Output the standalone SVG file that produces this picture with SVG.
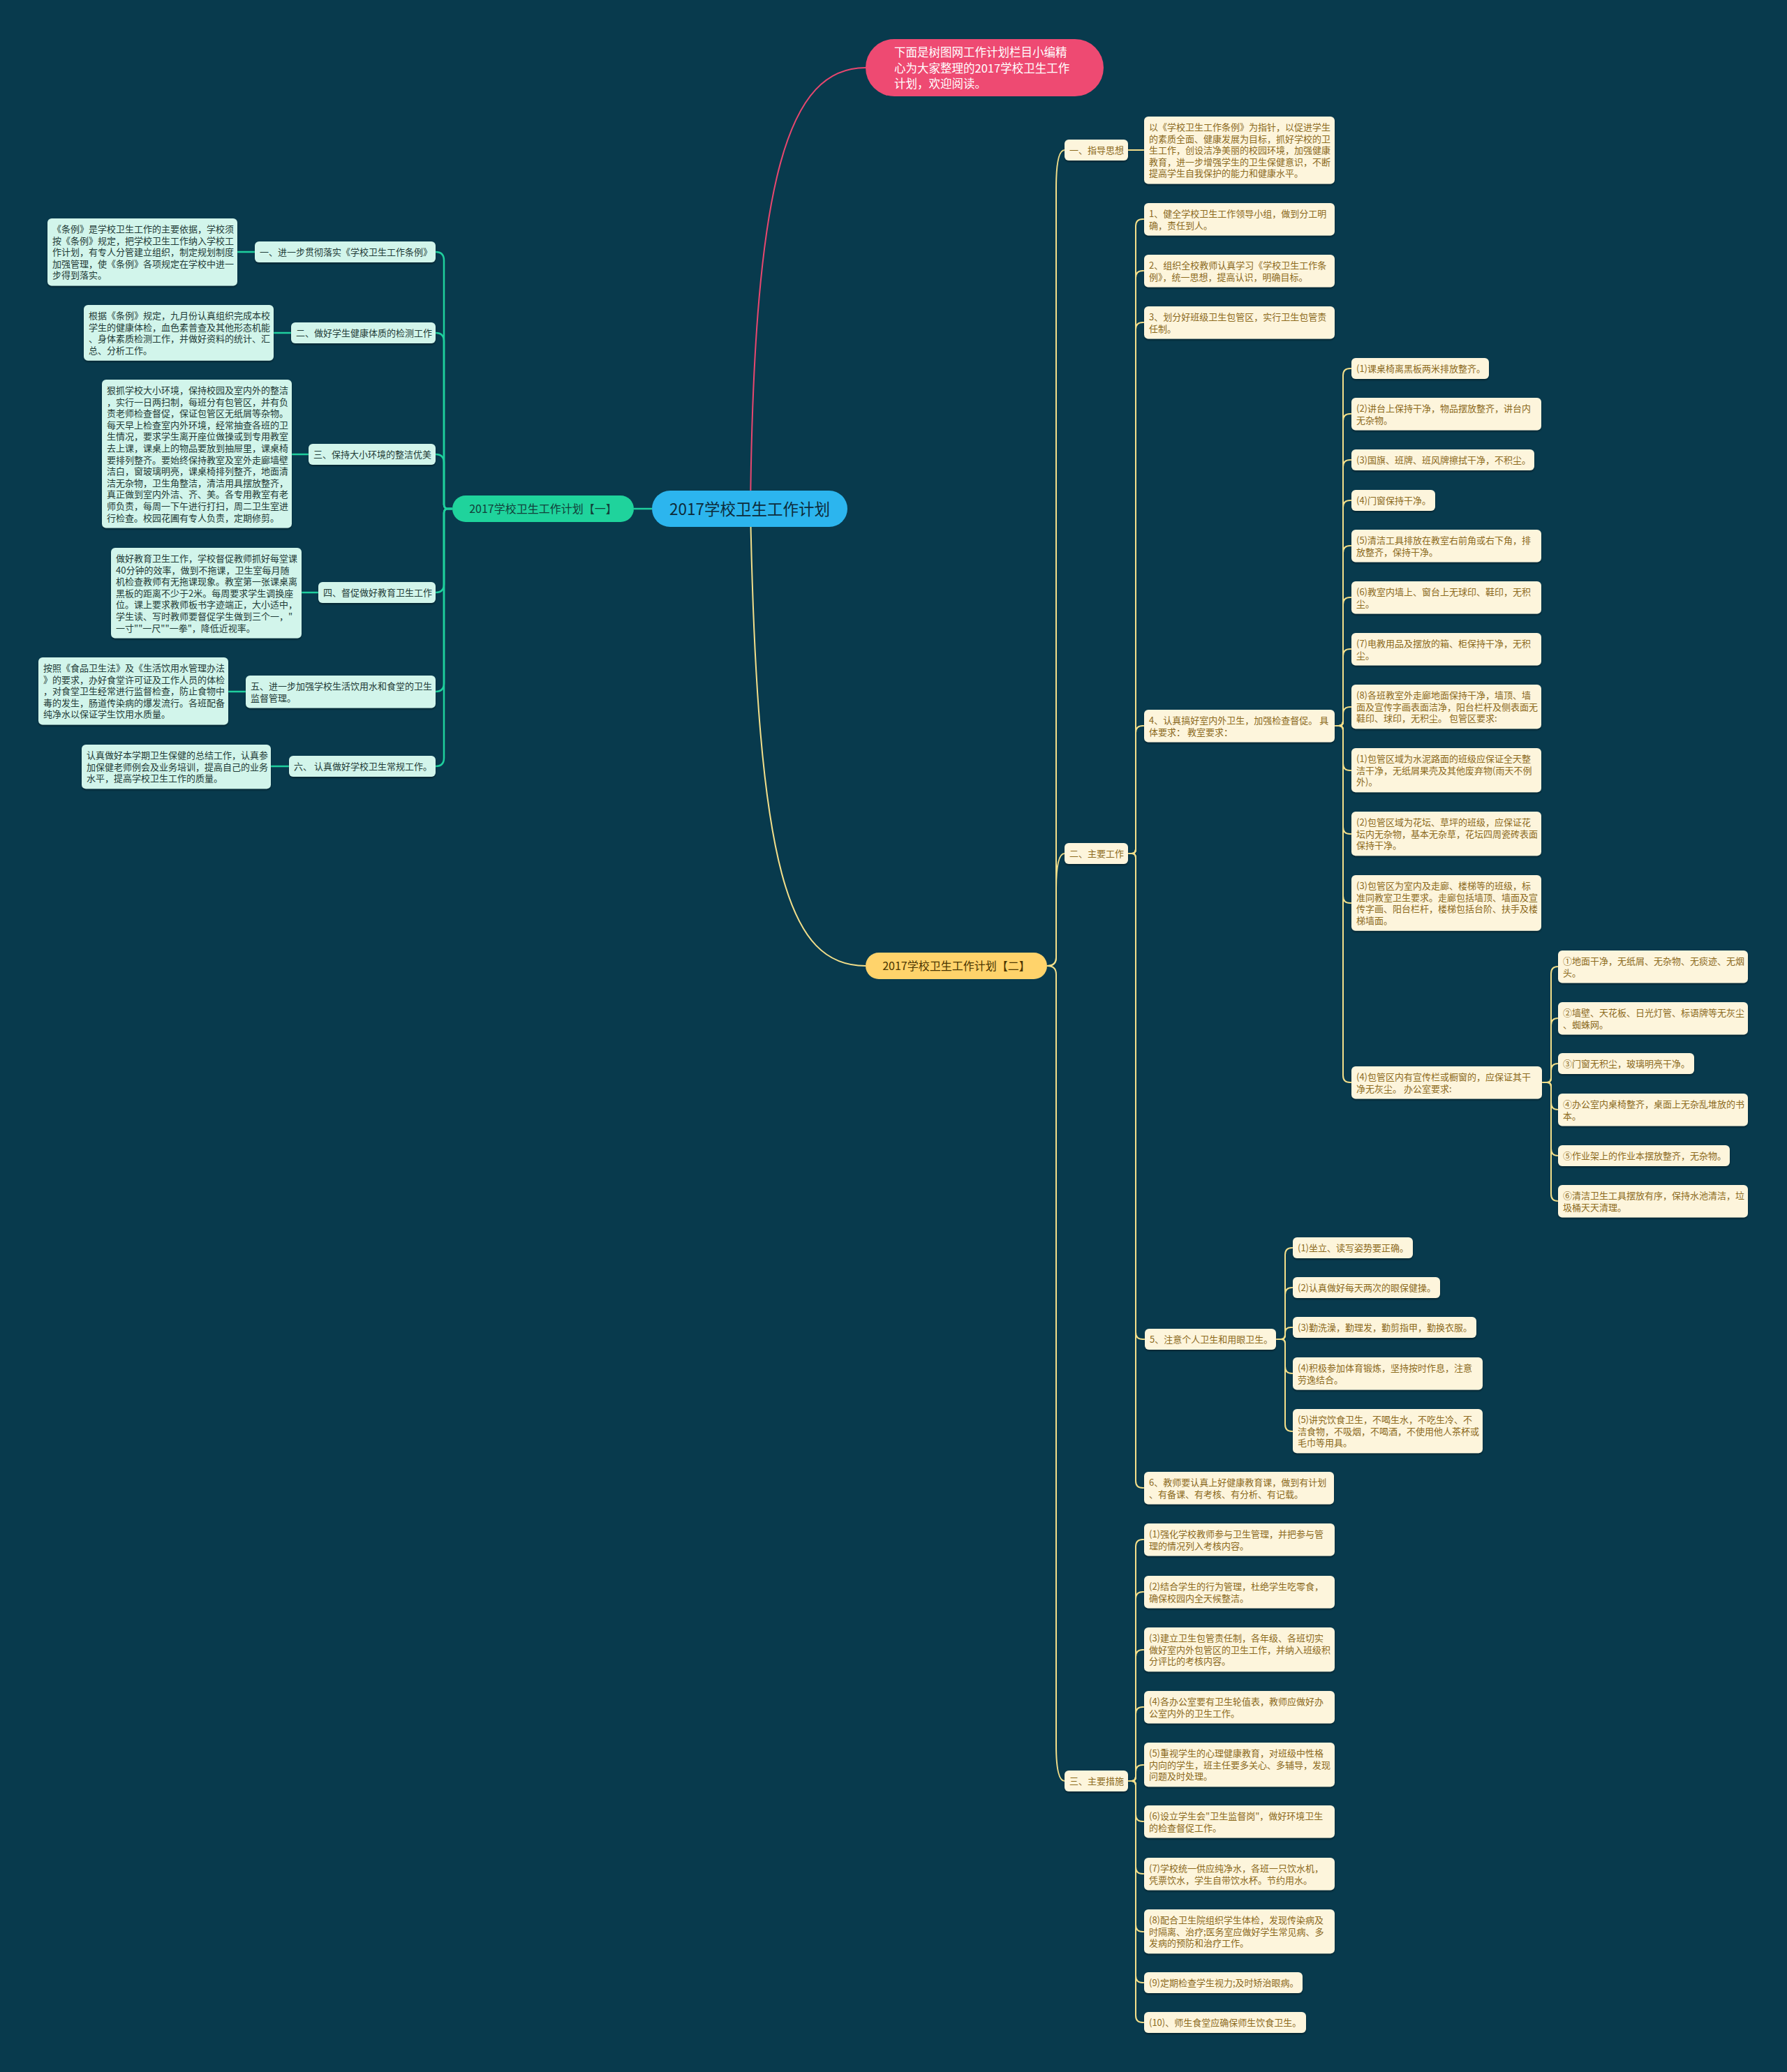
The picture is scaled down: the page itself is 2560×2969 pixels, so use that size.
<svg xmlns="http://www.w3.org/2000/svg" width="2560" height="2969" viewBox="0 0 2560 2969">
<defs>
<filter id="sh" x="-5%" y="-10%" width="110%" height="130%"><feDropShadow dx="0" dy="2" stdDeviation="1.2" flood-color="#000" flood-opacity="0.35"/></filter>
<style>
text{font-family:"Noto Sans CJK SC","Noto Sans",sans-serif;}
.rn{fill:#fdf5dc;filter:url(#sh);}
.ln{fill:#d2f5eb;filter:url(#sh);}
.rt{fill:#8c6a1c;font-size:13px;}
.lt{fill:#1f3b37;font-size:13px;}
.cy{fill:none;stroke:#f3df8a;stroke-width:2;}
.cg{fill:none;stroke:#1fcf9d;stroke-width:2.5;}
.cp{fill:none;stroke:#e8476f;stroke-width:2;}
</style>
</defs>
<rect width="2560" height="2969" fill="#083a4d"/>
<g id="connectors">
<path class="cp" d="M1075,729 C1080,250 1130,97 1240,97"/>
<path class="cy" d="M1075,729 C1085,1250 1130,1384 1240,1384"/>
<path class="cg" d="M934,729 H908"/>
<path class="cg" d="M648,729 H642 Q636,729 636,723 V373 Q636,361 624,361"/>
<path class="cg" d="M648,729 H642 Q636,729 636,723 V489 Q636,477 624,477"/>
<path class="cg" d="M648,729 H642 Q636,729 636,723 V663 Q636,651 624,651"/>
<path class="cg" d="M648,729 H642 Q636,729 636,735 V837 Q636,849 624,849"/>
<path class="cg" d="M648,729 H642 Q636,729 636,735 V979 Q636,991 624,991"/>
<path class="cg" d="M648,729 H642 Q636,729 636,735 V1086 Q636,1098 624,1098"/>
<path class="cg" d="M340,361 H365"/>
<path class="cg" d="M392,477 H417"/>
<path class="cg" d="M418,651 H442"/>
<path class="cg" d="M432,849 H456"/>
<path class="cg" d="M327,991 H352"/>
<path class="cg" d="M388,1098 H414"/>
<path class="cy" d="M1500,1384 Q1513,1384 1513,1372 V270 Q1513,215 1525,215"/>
<path class="cy" d="M1500,1384 Q1513,1384 1513,1372 V1275 Q1513,1223 1525,1223"/>
<path class="cy" d="M1500,1384 Q1513,1384 1513,1396 V2500 Q1513,2552 1525,2552"/>
<path class="cy" d="M1616,215 H1639"/>
<path class="cy" d="M1616,1223 H1621 Q1627,1223 1627,1217 V324 Q1627,314 1637,314 H1639"/>
<path class="cy" d="M1616,1223 H1621 Q1627,1223 1627,1217 V398 Q1627,388 1637,388 H1639"/>
<path class="cy" d="M1616,1223 H1621 Q1627,1223 1627,1217 V472 Q1627,462 1637,462 H1639"/>
<path class="cy" d="M1616,1223 H1621 Q1627,1223 1627,1217 V1050 Q1627,1040 1637,1040 H1639"/>
<path class="cy" d="M1616,1223 H1621 Q1627,1223 1627,1229 V1909 Q1627,1919 1637,1919 H1640"/>
<path class="cy" d="M1616,1223 H1621 Q1627,1223 1627,1229 V2122 Q1627,2132 1637,2132 H1639"/>
<path class="cy" d="M1912,1040 H1918 Q1924,1040 1924,1034 V538 Q1924,528 1934,528 H1936"/>
<path class="cy" d="M1912,1040 H1918 Q1924,1040 1924,1034 V603 Q1924,593 1934,593 H1936"/>
<path class="cy" d="M1912,1040 H1918 Q1924,1040 1924,1034 V669 Q1924,659 1934,659 H1936"/>
<path class="cy" d="M1912,1040 H1918 Q1924,1040 1924,1034 V727 Q1924,717 1934,717 H1936"/>
<path class="cy" d="M1912,1040 H1918 Q1924,1040 1924,1034 V792 Q1924,782 1934,782 H1936"/>
<path class="cy" d="M1912,1040 H1918 Q1924,1040 1924,1034 V866 Q1924,856 1934,856 H1936"/>
<path class="cy" d="M1912,1040 H1918 Q1924,1040 1924,1034 V940 Q1924,930 1934,930 H1936"/>
<path class="cy" d="M1912,1040 H1918 Q1924,1040 1924,1034 V1023 Q1924,1013 1934,1013 H1936"/>
<path class="cy" d="M1912,1040 H1918 Q1924,1040 1924,1046 V1094 Q1924,1104 1934,1104 H1936"/>
<path class="cy" d="M1912,1040 H1918 Q1924,1040 1924,1046 V1185 Q1924,1195 1934,1195 H1936"/>
<path class="cy" d="M1912,1040 H1918 Q1924,1040 1924,1046 V1284 Q1924,1294 1934,1294 H1936"/>
<path class="cy" d="M1912,1040 H1918 Q1924,1040 1924,1046 V1541 Q1924,1551 1934,1551 H1936"/>
<path class="cy" d="M2209,1551 H2216 Q2222,1551 2222,1545 V1395 Q2222,1385 2232,1385"/>
<path class="cy" d="M2209,1551 H2216 Q2222,1551 2222,1545 V1469 Q2222,1459 2232,1459"/>
<path class="cy" d="M2209,1551 H2216 Q2222,1551 2222,1545 V1534 Q2222,1524 2232,1524"/>
<path class="cy" d="M2209,1551 H2216 Q2222,1551 2222,1557 V1580 Q2222,1590 2232,1590"/>
<path class="cy" d="M2209,1551 H2216 Q2222,1551 2222,1557 V1646 Q2222,1656 2232,1656"/>
<path class="cy" d="M2209,1551 H2216 Q2222,1551 2222,1557 V1711 Q2222,1721 2232,1721"/>
<path class="cy" d="M1828,1919 H1835 Q1841,1919 1841,1913 V1798 Q1841,1788 1851,1788 H1852"/>
<path class="cy" d="M1828,1919 H1835 Q1841,1919 1841,1913 V1855 Q1841,1845 1851,1845 H1852"/>
<path class="cy" d="M1828,1919 H1835 Q1841,1919 1841,1913 V1910 Q1841,1902 1849,1902 H1852"/>
<path class="cy" d="M1828,1919 H1835 Q1841,1919 1841,1925 V1958 Q1841,1968 1851,1968 H1852"/>
<path class="cy" d="M1828,1919 H1835 Q1841,1919 1841,1925 V2041 Q1841,2051 1851,2051 H1852"/>
<path class="cy" d="M1616,2552 H1621 Q1627,2552 1627,2546 V2216 Q1627,2206 1637,2206 H1639"/>
<path class="cy" d="M1616,2552 H1621 Q1627,2552 1627,2546 V2291 Q1627,2281 1637,2281 H1639"/>
<path class="cy" d="M1616,2552 H1621 Q1627,2552 1627,2546 V2374 Q1627,2364 1637,2364 H1639"/>
<path class="cy" d="M1616,2552 H1621 Q1627,2552 1627,2546 V2456 Q1627,2446 1637,2446 H1639"/>
<path class="cy" d="M1616,2552 H1621 Q1627,2552 1627,2546 V2539 Q1627,2529 1637,2529 H1639"/>
<path class="cy" d="M1616,2552 H1621 Q1627,2552 1627,2558 V2600 Q1627,2610 1637,2610 H1639"/>
<path class="cy" d="M1616,2552 H1621 Q1627,2552 1627,2558 V2675 Q1627,2685 1637,2685 H1639"/>
<path class="cy" d="M1616,2552 H1621 Q1627,2552 1627,2558 V2758 Q1627,2768 1637,2768 H1639"/>
<path class="cy" d="M1616,2552 H1621 Q1627,2552 1627,2558 V2831 Q1627,2841 1637,2841 H1639"/>
<path class="cy" d="M1616,2552 H1621 Q1627,2552 1627,2558 V2888 Q1627,2898 1637,2898 H1639"/>
</g>

<g id="n-root"><rect x="934" y="703" width="280" height="52" rx="26" fill="#2cb5ee"/><text x="1074" y="737.5" text-anchor="middle" font-size="22.5" fill="#0d2b3a">2017学校卫生工作计划</text></g>
<g id="n-intro"><rect x="1240" y="56" width="341" height="82" rx="41" fill="#ee4a72"/><text font-size="16.5" fill="#ffffff"><tspan x="1281" y="81">下面是树图网工作计划栏目小编精</tspan><tspan x="1281" dy="22.5">心为大家整理的2017学校卫生工作</tspan><tspan x="1281" dy="22.5">计划，欢迎阅读。</tspan></text></g>
<g id="n-part1"><rect x="648" y="710" width="260" height="38" rx="19" fill="#1fd39c"/><text x="778" y="735" text-anchor="middle" font-size="16" fill="#12403a">2017学校卫生工作计划【一】</text></g>
<g id="n-part2"><rect x="1240" y="1365" width="260" height="38" rx="19" fill="#ffd36b"/><text x="1370" y="1390" text-anchor="middle" font-size="16" fill="#4a3500">2017学校卫生工作计划【二】</text></g>

<g id="n-L1"><rect class="ln" x="365" y="346" width="259" height="30" rx="6"/><text class="lt" x="372" y="366">一、进一步贯彻落实《学校卫生工作条例》</text></g>
<g id="n-L1d"><rect class="ln" x="68" y="313" width="272" height="96.4" rx="6"/><text class="lt"><tspan x="75" y="333">《条例》是学校卫生工作的主要依据，学校须</tspan><tspan x="75" dy="16.6">按《条例》规定，把学校卫生工作纳入学校工</tspan><tspan x="75" dy="16.6">作计划，有专人分管建立组织，制定规划制度</tspan><tspan x="75" dy="16.6">加强管理，使《条例》各项规定在学校中进一</tspan><tspan x="75" dy="16.6">步得到落实。</tspan></text></g>
<g id="n-L2"><rect class="ln" x="417" y="462" width="207" height="30" rx="6"/><text class="lt" x="424" y="482">二、做好学生健康体质的检测工作</text></g>
<g id="n-L2d"><rect class="ln" x="120" y="437" width="272" height="79.8" rx="6"/><text class="lt"><tspan x="127" y="457">根据《条例》规定，九月份认真组织完成本校</tspan><tspan x="127" dy="16.6">学生的健康体检，血色素普查及其他形态机能</tspan><tspan x="127" dy="16.6">、身体素质检测工作，并做好资料的统计、汇</tspan><tspan x="127" dy="16.6">总、分析工作。</tspan></text></g>
<g id="n-L3"><rect class="ln" x="442" y="636" width="182" height="30" rx="6"/><text class="lt" x="449" y="656">三、保持大小环境的整洁优美</text></g>
<g id="n-L3d"><rect class="ln" x="146" y="544" width="272" height="212.6" rx="6"/><text class="lt"><tspan x="153" y="564">狠抓学校大小环境，保持校园及室内外的整洁</tspan><tspan x="153" dy="16.6">，实行一日两扫制，每班分有包管区，并有负</tspan><tspan x="153" dy="16.6">责老师检查督促，保证包管区无纸屑等杂物。</tspan><tspan x="153" dy="16.6">每天早上检查室内外环境，经常抽查各班的卫</tspan><tspan x="153" dy="16.6">生情况，要求学生离开座位做操或到专用教室</tspan><tspan x="153" dy="16.6">去上课，课桌上的物品要放到抽屉里，课桌椅</tspan><tspan x="153" dy="16.6">要排列整齐。要始终保持教室及室外走廊墙壁</tspan><tspan x="153" dy="16.6">洁白，窗玻璃明亮，课桌椅排列整齐，地面清</tspan><tspan x="153" dy="16.6">洁无杂物，卫生角整洁，清洁用具摆放整齐，</tspan><tspan x="153" dy="16.6">真正做到室内外洁、齐、美。各专用教室有老</tspan><tspan x="153" dy="16.6">师负责，每周一下午进行打扫，周二卫生室进</tspan><tspan x="153" dy="16.6">行检查。校园花圃有专人负责，定期修剪。</tspan></text></g>
<g id="n-L4"><rect class="ln" x="456" y="834" width="168" height="30" rx="6"/><text class="lt" x="463" y="854">四、督促做好教育卫生工作</text></g>
<g id="n-L4d"><rect class="ln" x="159" y="785" width="273" height="129.6" rx="6"/><text class="lt"><tspan x="166" y="805">做好教育卫生工作，学校督促教师抓好每堂课</tspan><tspan x="166" dy="16.6">40分钟的效率，做到不拖课，卫生室每月随</tspan><tspan x="166" dy="16.6">机检查教师有无拖课现象。教室第一张课桌离</tspan><tspan x="166" dy="16.6">黑板的距离不少于2米。每周要求学生调换座</tspan><tspan x="166" dy="16.6">位。课上要求教师板书字迹端正，大小适中，</tspan><tspan x="166" dy="16.6">学生读、写时教师要督促学生做到三个一，"</tspan><tspan x="166" dy="16.6">一寸""一尺""一拳"，降低近视率。</tspan></text></g>
<g id="n-L5"><rect class="ln" x="352" y="968" width="272" height="46.6" rx="6"/><text class="lt"><tspan x="359" y="988">五、进一步加强学校生活饮用水和食堂的卫生</tspan><tspan x="359" dy="16.6">监督管理。</tspan></text></g>
<g id="n-L5d"><rect class="ln" x="55" y="942" width="272" height="96.4" rx="6"/><text class="lt"><tspan x="62" y="962">按照《食品卫生法》及《生活饮用水管理办法</tspan><tspan x="62" dy="16.6">》的要求，办好食堂许可证及工作人员的体检</tspan><tspan x="62" dy="16.6">，对食堂卫生经常进行监督检查，防止食物中</tspan><tspan x="62" dy="16.6">毒的发生，肠道传染病的爆发流行。各班配备</tspan><tspan x="62" dy="16.6">纯净水以保证学生饮用水质量。</tspan></text></g>
<g id="n-L6"><rect class="ln" x="414" y="1083" width="210" height="30" rx="6"/><text class="lt" x="421" y="1103">六、 认真做好学校卫生常规工作。</text></g>
<g id="n-L6d"><rect class="ln" x="117" y="1067" width="271" height="63.2" rx="6"/><text class="lt"><tspan x="124" y="1087">认真做好本学期卫生保健的总结工作，认真参</tspan><tspan x="124" dy="16.6">加保健老师例会及业务培训，提高自己的业务</tspan><tspan x="124" dy="16.6">水平，提高学校卫生工作的质量。</tspan></text></g>

<g id="n-R1"><rect class="rn" x="1525" y="200" width="91" height="30" rx="6"/><text class="rt" x="1532" y="220">一、指导思想</text></g>
<g id="n-R1d"><rect class="rn" x="1639" y="167" width="273" height="96.4" rx="6"/><text class="rt"><tspan x="1646" y="187">以《学校卫生工作条例》为指针，以促进学生</tspan><tspan x="1646" dy="16.6">的素质全面、健康发展为目标，抓好学校的卫</tspan><tspan x="1646" dy="16.6">生工作，创设洁净美丽的校园环境，加强健康</tspan><tspan x="1646" dy="16.6">教育，进一步增强学生的卫生保健意识，不断</tspan><tspan x="1646" dy="16.6">提高学生自我保护的能力和健康水平。</tspan></text></g>
<g id="n-R2"><rect class="rn" x="1525" y="1208" width="91" height="30" rx="6"/><text class="rt" x="1532" y="1228">二、主要工作</text></g>
<g id="n-R3"><rect class="rn" x="1525" y="2537" width="91" height="30" rx="6"/><text class="rt" x="1532" y="2557">三、主要措施</text></g>

<g id="n-c1"><rect class="rn" x="1639" y="291" width="273" height="46.6" rx="6"/><text class="rt"><tspan x="1646" y="311">1、健全学校卫生工作领导小组，做到分工明</tspan><tspan x="1646" dy="16.6">确，责任到人。</tspan></text></g>
<g id="n-c2"><rect class="rn" x="1639" y="365" width="273" height="46.6" rx="6"/><text class="rt"><tspan x="1646" y="385">2、组织全校教师认真学习《学校卫生工作条</tspan><tspan x="1646" dy="16.6">例》，统一思想，提高认识，明确目标。</tspan></text></g>
<g id="n-c3"><rect class="rn" x="1639" y="439" width="273" height="46.6" rx="6"/><text class="rt"><tspan x="1646" y="459">3、划分好班级卫生包管区，实行卫生包管责</tspan><tspan x="1646" dy="16.6">任制。</tspan></text></g>
<g id="n-c4"><rect class="rn" x="1639" y="1017" width="273" height="46.6" rx="6"/><text class="rt"><tspan x="1646" y="1037">4、认真搞好室内外卫生，加强检查督促。 具</tspan><tspan x="1646" dy="16.6">体要求： 教室要求：</tspan></text></g>
<g id="n-c5"><rect class="rn" x="1640" y="1904" width="188" height="30" rx="6"/><text class="rt" x="1647" y="1924">5、注意个人卫生和用眼卫生。</text></g>
<g id="n-c6"><rect class="rn" x="1639" y="2109" width="272" height="46.6" rx="6"/><text class="rt"><tspan x="1646" y="2129">6、教师要认真上好健康教育课，做到有计划</tspan><tspan x="1646" dy="16.6">、有备课、有考核、有分析、有记载。</tspan></text></g>

<g id="n-k1"><rect class="rn" x="1936" y="513" width="197" height="30" rx="6"/><text class="rt" x="1943" y="533">(1)课桌椅离黑板两米排放整齐。</text></g>
<g id="n-k2"><rect class="rn" x="1936" y="570" width="272" height="46.6" rx="6"/><text class="rt"><tspan x="1943" y="590">(2)讲台上保持干净，物品摆放整齐，讲台内</tspan><tspan x="1943" dy="16.6">无杂物。</tspan></text></g>
<g id="n-k3"><rect class="rn" x="1936" y="644" width="262" height="30" rx="6"/><text class="rt" x="1943" y="664">(3)国旗、班牌、班风牌擦拭干净，不积尘。</text></g>
<g id="n-k4"><rect class="rn" x="1936" y="702" width="120" height="30" rx="6"/><text class="rt" x="1943" y="722">(4)门窗保持干净。</text></g>
<g id="n-k5"><rect class="rn" x="1936" y="759" width="272" height="46.6" rx="6"/><text class="rt"><tspan x="1943" y="779">(5)清洁工具排放在教室右前角或右下角，排</tspan><tspan x="1943" dy="16.6">放整齐，保持干净。</tspan></text></g>
<g id="n-k6"><rect class="rn" x="1936" y="833" width="272" height="46.6" rx="6"/><text class="rt"><tspan x="1943" y="853">(6)教室内墙上、窗台上无球印、鞋印，无积</tspan><tspan x="1943" dy="16.6">尘。</tspan></text></g>
<g id="n-k7"><rect class="rn" x="1936" y="907" width="272" height="46.6" rx="6"/><text class="rt"><tspan x="1943" y="927">(7)电教用品及摆放的箱、柜保持干净，无积</tspan><tspan x="1943" dy="16.6">尘。</tspan></text></g>
<g id="n-k8"><rect class="rn" x="1936" y="981" width="272" height="63.2" rx="6"/><text class="rt"><tspan x="1943" y="1001">(8)各班教室外走廊地面保持干净，墙顶、墙</tspan><tspan x="1943" dy="16.6">面及宣传字画表面洁净，阳台栏杆及侧表面无</tspan><tspan x="1943" dy="16.6">鞋印、球印，无积尘。 包管区要求:</tspan></text></g>
<g id="n-k9"><rect class="rn" x="1936" y="1072" width="272" height="63.2" rx="6"/><text class="rt"><tspan x="1943" y="1092">(1)包管区域为水泥路面的班级应保证全天整</tspan><tspan x="1943" dy="16.6">洁干净，无纸屑果壳及其他废弃物(雨天不例</tspan><tspan x="1943" dy="16.6">外)。</tspan></text></g>
<g id="n-k10"><rect class="rn" x="1936" y="1163" width="272" height="63.2" rx="6"/><text class="rt"><tspan x="1943" y="1183">(2)包管区域为花坛、草坪的班级，应保证花</tspan><tspan x="1943" dy="16.6">坛内无杂物，基本无杂草，花坛四周瓷砖表面</tspan><tspan x="1943" dy="16.6">保持干净。</tspan></text></g>
<g id="n-k11"><rect class="rn" x="1936" y="1254" width="272" height="79.8" rx="6"/><text class="rt"><tspan x="1943" y="1274">(3)包管区为室内及走廊、楼梯等的班级，标</tspan><tspan x="1943" dy="16.6">准同教室卫生要求。走廊包括墙顶、墙面及宣</tspan><tspan x="1943" dy="16.6">传字画、阳台栏杆，楼梯包括台阶、扶手及楼</tspan><tspan x="1943" dy="16.6">梯墙面。</tspan></text></g>
<g id="n-k12"><rect class="rn" x="1936" y="1528" width="273" height="46.6" rx="6"/><text class="rt"><tspan x="1943" y="1548">(4)包管区内有宣传栏或橱窗的，应保证其干</tspan><tspan x="1943" dy="16.6">净无灰尘。 办公室要求:</tspan></text></g>

<g id="n-o1"><rect class="rn" x="2232" y="1362" width="272" height="46.6" rx="6"/><text class="rt"><tspan x="2239" y="1382">①地面干净，无纸屑、无杂物、无痰迹、无烟</tspan><tspan x="2239" dy="16.6">头。</tspan></text></g>
<g id="n-o2"><rect class="rn" x="2232" y="1436" width="272" height="46.6" rx="6"/><text class="rt"><tspan x="2239" y="1456">②墙壁、天花板、日光灯管、标语牌等无灰尘</tspan><tspan x="2239" dy="16.6">、蜘蛛网。</tspan></text></g>
<g id="n-o3"><rect class="rn" x="2232" y="1509" width="195" height="30" rx="6"/><text class="rt" x="2239" y="1529">③门窗无积尘，玻璃明亮干净。</text></g>
<g id="n-o4"><rect class="rn" x="2232" y="1567" width="272" height="46.6" rx="6"/><text class="rt"><tspan x="2239" y="1587">④办公室内桌椅整齐，桌面上无杂乱堆放的书</tspan><tspan x="2239" dy="16.6">本。</tspan></text></g>
<g id="n-o5"><rect class="rn" x="2232" y="1641" width="246" height="30" rx="6"/><text class="rt" x="2239" y="1661">⑤作业架上的作业本摆放整齐，无杂物。</text></g>
<g id="n-o6"><rect class="rn" x="2232" y="1698" width="272" height="46.6" rx="6"/><text class="rt"><tspan x="2239" y="1718">⑥清洁卫生工具摆放有序，保持水池清洁，垃</tspan><tspan x="2239" dy="16.6">圾桶天天清理。</tspan></text></g>

<g id="n-p1"><rect class="rn" x="1852" y="1773" width="172" height="30" rx="6"/><text class="rt" x="1859" y="1793">(1)坐立、读写姿势要正确。</text></g>
<g id="n-p2"><rect class="rn" x="1852" y="1830" width="211" height="30" rx="6"/><text class="rt" x="1859" y="1850">(2)认真做好每天两次的眼保健操。</text></g>
<g id="n-p3"><rect class="rn" x="1852" y="1887" width="263" height="30" rx="6"/><text class="rt" x="1859" y="1907">(3)勤洗澡，勤理发，勤剪指甲，勤换衣服。</text></g>
<g id="n-p4"><rect class="rn" x="1852" y="1945" width="272" height="46.6" rx="6"/><text class="rt"><tspan x="1859" y="1965">(4)积极参加体育锻炼，坚持按时作息，注意</tspan><tspan x="1859" dy="16.6">劳逸结合。</tspan></text></g>
<g id="n-p5"><rect class="rn" x="1852" y="2019" width="272" height="63.2" rx="6"/><text class="rt"><tspan x="1859" y="2039">(5)讲究饮食卫生，不喝生水，不吃生冷、不</tspan><tspan x="1859" dy="16.6">洁食物，不吸烟，不喝酒，不使用他人茶杯或</tspan><tspan x="1859" dy="16.6">毛巾等用具。</tspan></text></g>

<g id="n-m1"><rect class="rn" x="1639" y="2183" width="273" height="46.6" rx="6"/><text class="rt"><tspan x="1646" y="2203">(1)强化学校教师参与卫生管理，并把参与管</tspan><tspan x="1646" dy="16.6">理的情况列入考核内容。</tspan></text></g>
<g id="n-m2"><rect class="rn" x="1639" y="2258" width="273" height="46.6" rx="6"/><text class="rt"><tspan x="1646" y="2278">(2)结合学生的行为管理，杜绝学生吃零食，</tspan><tspan x="1646" dy="16.6">确保校园内全天候整洁。</tspan></text></g>
<g id="n-m3"><rect class="rn" x="1639" y="2332" width="273" height="63.2" rx="6"/><text class="rt"><tspan x="1646" y="2352">(3)建立卫生包管责任制，各年级、各班切实</tspan><tspan x="1646" dy="16.6">做好室内外包管区的卫生工作，并纳入班级积</tspan><tspan x="1646" dy="16.6">分评比的考核内容。</tspan></text></g>
<g id="n-m4"><rect class="rn" x="1639" y="2423" width="273" height="46.6" rx="6"/><text class="rt"><tspan x="1646" y="2443">(4)各办公室要有卫生轮值表，教师应做好办</tspan><tspan x="1646" dy="16.6">公室内外的卫生工作。</tspan></text></g>
<g id="n-m5"><rect class="rn" x="1639" y="2497" width="273" height="63.2" rx="6"/><text class="rt"><tspan x="1646" y="2517">(5)重视学生的心理健康教育，对班级中性格</tspan><tspan x="1646" dy="16.6">内向的学生，班主任要多关心、多辅导，发现</tspan><tspan x="1646" dy="16.6">问题及时处理。</tspan></text></g>
<g id="n-m6"><rect class="rn" x="1639" y="2587" width="273" height="46.6" rx="6"/><text class="rt"><tspan x="1646" y="2607">(6)设立学生会"卫生监督岗"，做好环境卫生</tspan><tspan x="1646" dy="16.6">的检查督促工作。</tspan></text></g>
<g id="n-m7"><rect class="rn" x="1639" y="2662" width="273" height="46.6" rx="6"/><text class="rt"><tspan x="1646" y="2682">(7)学校统一供应纯净水，各班一只饮水机，</tspan><tspan x="1646" dy="16.6">凭票饮水，学生自带饮水杯。节约用水。</tspan></text></g>
<g id="n-m8"><rect class="rn" x="1639" y="2736" width="273" height="63.2" rx="6"/><text class="rt"><tspan x="1646" y="2756">(8)配合卫生院组织学生体检，发现传染病及</tspan><tspan x="1646" dy="16.6">时隔离、治疗;医务室应做好学生常见病、多</tspan><tspan x="1646" dy="16.6">发病的预防和治疗工作。</tspan></text></g>
<g id="n-m9"><rect class="rn" x="1639" y="2826" width="227" height="30" rx="6"/><text class="rt" x="1646" y="2846">(9)定期检查学生视力;及时矫治眼病。</text></g>
<g id="n-m10"><rect class="rn" x="1639" y="2883" width="232" height="30" rx="6"/><text class="rt" x="1646" y="2903">(10)、师生食堂应确保师生饮食卫生。</text></g>
</svg>
